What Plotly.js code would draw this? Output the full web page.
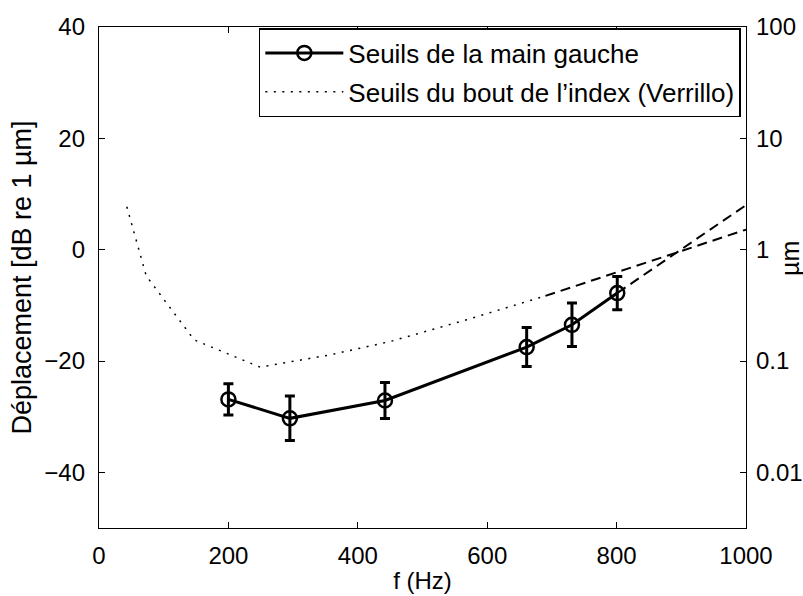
<!DOCTYPE html>
<html>
<head>
<meta charset="utf-8">
<script src="https://cdn.plot.ly/plotly-3.0.1.min.js"></script>
<style>html,body{margin:0;padding:0;background:#fff;}#chart{width:803px;height:596px;}</style>
</head>
<body>
<div id="chart"></div>
<script>
// Left-hand thresholds (measured)
const freqMain = [200, 295, 442, 661, 731, 801];
const dbMain = [-26.9, -30.3, -27.1, -17.5, -13.5, -7.8];
const errMain = [2.8, 4.0, 3.25, 3.5, 3.9, 3.0];
// Extrapolation of the left-hand thresholds
const freqMainExt = [801, 1000];
const dbMainExt = [-7.8, 8.0];
// Fingertip thresholds (Verrillo)
const freqVer = [43, 73, 147, 249, 357, 450, 568, 690];
const dbVer = [7.7, -4.7, -16.2, -21.1, -18.9, -16.5, -12.6, -8.3];
// Extrapolation of Verrillo thresholds
const freqVerExt = [690, 1000];
const dbVerExt = [-8.3, 3.6];
// Axis ticks
const xTicks = [0, 200, 400, 600, 800, 1000];
const yTicks = [-40, -20, 0, 20, 40];
const y2Ticks = [0.01, 0.1, 1, 10, 100];
const y2TickText = ['0.01', '0.1', '1', '10', '100'];

const FONT = 'Liberation Sans, Arial, Helvetica, sans-serif';

const traces = [
  {
    x: freqMain, y: dbMain, type: 'scatter', mode: 'lines+markers',
    name: 'Seuils de la main gauche',
    line: {color: 'black', width: 3},
    marker: {symbol: 'circle-open', size: 14, color: 'black', line: {width: 2.5, color: 'black'}},
    error_y: {type: 'data', array: errMain, visible: true, color: 'black', thickness: 3, width: 5},
    legendgroup: 'a', legendrank: 1
  },
  {
    x: freqVer, y: dbVer, type: 'scatter', mode: 'lines',
    name: 'Seuils du bout de l\u2019index (Verrillo)',
    line: {color: 'black', width: 1.5, dash: '2px,6.5px'},
    legendgroup: 'b', legendrank: 2
  },
  {
    x: freqVerExt, y: dbVerExt, type: 'scatter', mode: 'lines', showlegend: false,
    line: {color: 'black', width: 2, dash: '10px,6px'}, hoverinfo: 'skip'
  },
  {
    x: freqMainExt, y: dbMainExt, type: 'scatter', mode: 'lines', showlegend: false,
    line: {color: 'black', width: 2, dash: '10px,6px'}, hoverinfo: 'skip'
  },
  {
    x: [0], y: [1], yaxis: 'y2', type: 'scatter', mode: 'lines', showlegend: false, hoverinfo: 'skip'
  }
];

const layout = {
  width: 803, height: 596,
  margin: {l: 99, r: 57, t: 27, b: 68},
  paper_bgcolor: 'white', plot_bgcolor: 'white',
  font: {family: FONT, size: 24, color: 'black'},
  showlegend: true,
  legend: {
    x: 0.992, y: 0.998, xanchor: 'right', yanchor: 'top',
    bgcolor: 'white', bordercolor: 'black', borderwidth: 1.5,
    font: {family: FONT, size: 26, color: 'black'},
    traceorder: 'grouped', tracegroupgap: 2, itemwidth: 78
  },
  xaxis: {
    range: [0, 1000], tickvals: xTicks, ticks: 'inside', ticklen: 6, tickcolor: 'black',
    showline: true, linecolor: 'black', linewidth: 1.2, mirror: 'ticks',
    showgrid: false, zeroline: false, ticklabelstandoff: 6,
    tickfont: {family: FONT, size: 24, color: 'black'},
    title: {text: 'f (Hz)', font: {family: FONT, size: 24, color: 'black'}, standoff: 4}
  },
  yaxis: {
    range: [-50, 40], tickvals: yTicks, ticks: 'inside', ticklen: 6, tickcolor: 'black',
    showline: true, linecolor: 'black', linewidth: 1.2, mirror: true,
    showgrid: false, zeroline: false, ticklabelstandoff: 8,
    tickfont: {family: FONT, size: 24, color: 'black'},
    title: {text: 'Déplacement [dB re 1 µm]', font: {family: FONT, size: 27, color: 'black'}, standoff: 4}
  },
  yaxis2: {
    overlaying: 'y', side: 'right', type: 'log', range: [-2.5, 2],
    tickvals: y2Ticks, ticktext: y2TickText, ticks: 'inside', ticklen: 6, tickcolor: 'black',
    showline: true, linecolor: 'black', linewidth: 1.2,
    showgrid: false, zeroline: false, ticklabelstandoff: 4,
    tickfont: {family: FONT, size: 24, color: 'black'}
  },
  annotations: [
    {text: 'µm', xref: 'paper', yref: 'paper', x: 1.068, y: 0.539, xanchor: 'center', yanchor: 'middle',
     textangle: -90, showarrow: false, font: {family: FONT, size: 25, color: 'black'}}
  ]
};

Plotly.newPlot('chart', traces, layout, {displayModeBar: false, staticPlot: true});
</script>
</body>
</html>
